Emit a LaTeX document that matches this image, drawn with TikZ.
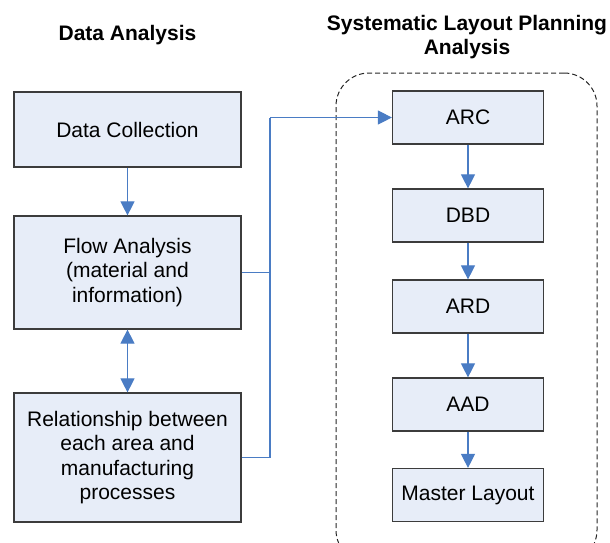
\documentclass[tikz,border=0pt]{standalone}
\usepackage{fontspec}
\setmainfont{Liberation Sans}
\usetikzlibrary{%
  arrows.meta,%
  positioning,%
  shapes%
}
\definecolor{boxfill}{RGB}{231,237,248}
\definecolor{boxline}{RGB}{60,60,60}
\definecolor{flowblue}{RGB}{74,124,196}

\begin{document}
\begin{tikzpicture}
[x=1pt, y=-1pt, >={Triangle[length=14pt,width=14pt]},
stage/.style={rectangle, draw=boxline, line width=1.2pt, fill=boxfill, inner sep=0pt, align=center,
  font=\fontsize{21}{24.5}\selectfont},
bigstage/.style={stage, minimum width=227pt},
slpstage/.style={stage, minimum width=151pt, minimum height=53pt},
heading/.style={font=\fontsize{21}{24}\selectfont\bfseries, align=center, inner sep=0pt},
link/.style={draw=flowblue, line width=1.1pt}]

\useasboundingbox (0,0) rectangle (610,542);
\clip (0,0) rectangle (610,542);

% titles
\node[heading, anchor=base] (datatitle) at (127.5,40) {Data Analysis};
\node[heading, anchor=base] (slptitle) at (467,54) {Systematic Layout Planning\\Analysis};

% frame round the SLP steps
\node[draw=black!85, line width=1pt, dash pattern=on 5pt off 3pt, rounded corners=33pt,
  minimum width=261pt, minimum height=490pt, inner sep=0pt] (slpframe) at (466.5,318) {};

% data analysis column
\node[bigstage, minimum height=75pt] (datacoll) at (127.5,129.5) {Data Collection};
\node[bigstage, minimum height=113pt] (flow) at (127.5,272.5) {Flow Analysis\\(material and\\information)};
\node[bigstage, minimum height=129pt] (relation) at (127.5,457.5) {Relationship between\\each area and\\manufacturing\\processes};

\draw[link, ->] (datacoll) -- (flow);
\draw[link, <->] (flow) -- (relation);

% SLP column
\node[slpstage] (arc) at (468,117.5) {ARC};
\node[slpstage] (dbd) at (468,215.5) {DBD};
\node[slpstage] (ard) at (468,306.5) {ARD};
\node[slpstage] (aad) at (468,404.5) {AAD};
\node[slpstage] (master) at (468,495) {Master Layout};

\draw[link, ->] (arc) -- (dbd);
\draw[link, ->] (dbd) -- (ard);
\draw[link, ->] (ard) -- (aad);
\draw[link, ->] (aad) -- (master);

% joining the two columns
\coordinate (bus) at (270,117.5);
\draw[link] (relation.east) -| (bus);
\draw[link] (flow.east) -- (flow.east -| bus);
\draw[link, ->] (bus) -- (arc.west);
\end{tikzpicture}
\end{document}
